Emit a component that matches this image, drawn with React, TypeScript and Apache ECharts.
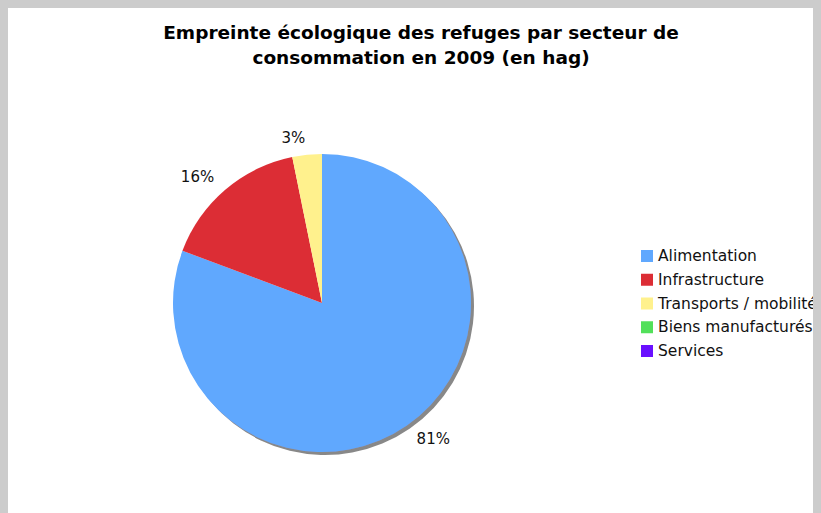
import React, { useEffect, useRef } from "react";
import * as echarts from "echarts";

const titleLines = [
  "Empreinte écologique des refuges par secteur de",
  "consommation en 2009 (en hag)",
];
const categories = [
  "Alimentation",
  "Infrastructure",
  "Transports / mobilité",
  "Biens manufacturés",
  "Services",
];
const values = [80.7, 16.1, 3.2, 0, 0];
const colors = ["#60a8fe", "#dc2d35", "#fff18d", "#52e05a", "#6a10ff"];

export default function App() {
  const ref = useRef<HTMLDivElement>(null);
  useEffect(() => {
    document.body.style.background = "#cccccc";
    const chart = echarts.init(ref.current!, undefined, { renderer: "svg" });
    const font = '"DejaVu Sans", Verdana, sans-serif';
    const data = categories.map((name, i) => ({
      name,
      value: values[i],
      itemStyle:
        i === 0
          ? {
              color: colors[i],
              shadowColor: "#888888",
              shadowBlur: 0,
              shadowOffsetX: 3,
              shadowOffsetY: 3,
            }
          : { color: colors[i] },
      label: { show: values[i] > 0 },
    }));
    chart.setOption({
      animation: false,
      backgroundColor: "#ffffff",
      title: {
        text: titleLines.join("\n"),
        left: 413,
        top: 12,
        textAlign: "center",
        padding: 0,
        textStyle: {
          fontFamily: font,
          fontSize: 18.5,
          fontWeight: "bold",
          color: "#000000",
          lineHeight: 25,
        },
      },
      legend: {
        orient: "vertical",
        left: 633,
        top: 240,
        padding: 0,
        itemWidth: 12,
        itemHeight: 12,
        itemGap: 7.75,
        icon: "rect",
        data: categories,
        selectedMode: false,
        textStyle: { fontFamily: font, fontSize: 15.5, color: "#111111" },
      },
      series: [
        {
          type: "pie",
          center: [314, 295],
          radius: 149,
          startAngle: 90,
          clockwise: true,
          avoidLabelOverlap: false,
          percentPrecision: 0,
          label: {
            show: true,
            position: "outside",
            formatter: "{d}%",
            fontFamily: font,
            fontSize: 15,
            color: "#111111",
            distanceToLabelLine: 0,
          },
          labelLine: { show: false, length: 17, length2: 0 },
          emphasis: { disabled: true },
          data,
        },
      ],
    });
    return () => chart.dispose();
  }, []);
  return <div ref={ref} style={{ width: 813, height: 505 }} />;
}
